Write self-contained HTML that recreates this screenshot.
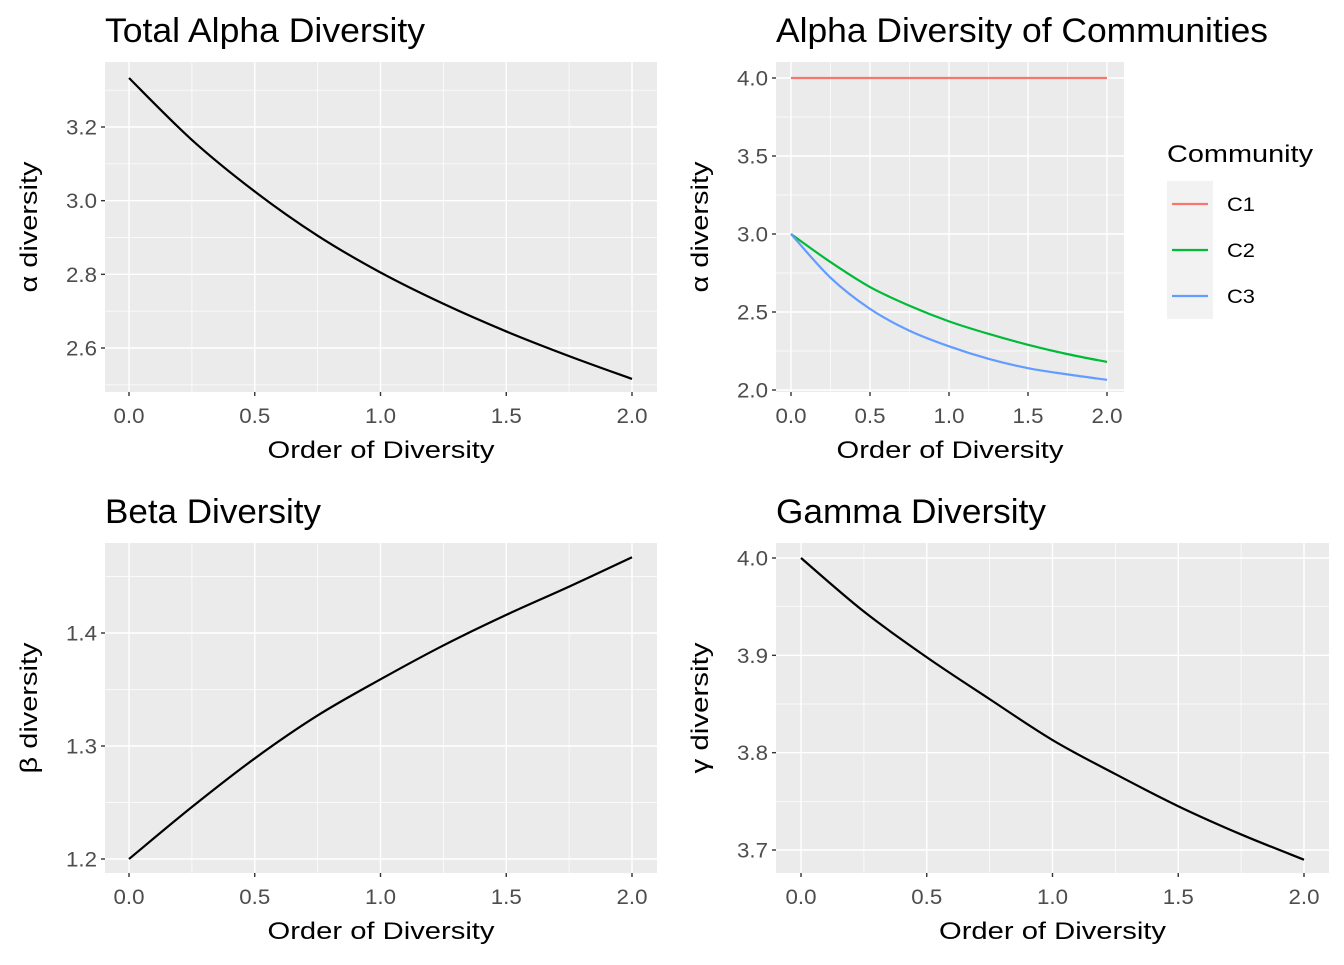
<!DOCTYPE html>
<html><head><meta charset="utf-8"><style>
body{margin:0;background:#fff;}
svg text{font-family:"Liberation Sans",sans-serif;}
</style></head><body>
<svg id="c" width="1344" height="960" xmlns="http://www.w3.org/2000/svg"></svg>
<script>
const qOrders=[0,0.25,0.5,0.75,1,1.25,1.5,1.75,2];
const totalAlpha=[3.333,3.165,3.025,2.905,2.805,2.72,2.645,2.578,2.516];
const communityC1=[4,4,4,4,4,4,4,4,4];
const communityC2=[3.0,2.82,2.66,2.54,2.44,2.36,2.29,2.23,2.18];
const communityC3=[3.0,2.72,2.52,2.38,2.28,2.2,2.14,2.10,2.065];
const betaDiv=[1.2,1.246,1.289,1.327,1.359,1.389,1.416,1.441,1.467];
const gammaDiv=[4.0,3.945,3.898,3.855,3.813,3.778,3.745,3.716,3.69];
const xTicks=[0,0.5,1,1.5,2];
const xTickLabels=["0.0","0.5","1.0","1.5","2.0"];
const ytA=[2.6,2.8,3.0,3.2], ytALab=["2.6","2.8","3.0","3.2"];
const ytC=[2.0,2.5,3.0,3.5,4.0], ytCLab=["2.0","2.5","3.0","3.5","4.0"];
const ytB=[1.2,1.3,1.4], ytBLab=["1.2","1.3","1.4"];
const ytG=[3.7,3.8,3.9,4.0], ytGLab=["3.7","3.8","3.9","4.0"];
const communityNames=["C1","C2","C3"];
const communityColors=["#F8766D","#00BA38","#619CFF"];

const svg=document.getElementById('c');
const NS="http://www.w3.org/2000/svg";
function mk(tag,attrs,parent){const e=document.createElementNS(NS,tag);for(const k in attrs)e.setAttribute(k,attrs[k]);(parent||svg).appendChild(e);return e;}
function smoothPath(pts){
  let d='M'+pts[0][0]+','+pts[0][1];
  for(let i=0;i<pts.length-1;i++){
    const p0=pts[Math.max(0,i-1)],p1=pts[i],p2=pts[i+1],p3=pts[Math.min(pts.length-1,i+2)];
    const c1=[p1[0]+(p2[0]-p0[0])/6,p1[1]+(p2[1]-p0[1])/6];
    const c2=[p2[0]-(p3[0]-p1[0])/6,p2[1]-(p3[1]-p1[1])/6];
    d+=' C'+c1[0]+','+c1[1]+' '+c2[0]+','+c2[1]+' '+p2[0]+','+p2[1];
  }
  return d;
}

function panel(o){
  const g=mk('g',{});
  
  
  const sx=v=>o.x0+(v-o.xmin)/(o.xmax-o.xmin)*(o.x1-o.x0);
  const sy=v=>o.y0+(v-o.ymin)/(o.ymax-o.ymin)*(o.y1-o.y0);
  const bg=mk('rect',{x:o.L,y:o.T,width:o.R-o.L,height:o.B-o.T,fill:'#EBEBEB'},g);
  
  
  for(let i=0;i<xTicks.length-1;i++){const x=sx((xTicks[i]+xTicks[i+1])/2);mk('line',{x1:x,x2:x,y1:o.T,y2:o.B,stroke:'#fff','stroke-width':0.7},g);}
  for(let i=-1;i<o.yt.length;i++){
    const step=o.yt[1]-o.yt[0];
    const v=(i<0?o.yt[0]-step/2:o.yt[i]+step/2);
    const y=sy(v); if(y<o.T||y>o.B) continue;
    mk('line',{x1:o.L,x2:o.R,y1:y,y2:y,stroke:'#fff','stroke-width':0.7},g);
  }
  xTicks.forEach((v,i)=>{const x=sx(v);
    mk('line',{x1:x,x2:x,y1:o.T,y2:o.B,stroke:'#fff','stroke-width':1.4},g);
    mk('line',{x1:x,x2:x,y1:o.B,y2:o.B+4,stroke:'#333','stroke-width':1.4},g);
    const t=mk('text',{x:x,y:o.B+31,'font-size':21,fill:'#4D4D4D','text-anchor':'middle',textLength:31,lengthAdjust:'spacingAndGlyphs'},g);
    t.textContent=xTickLabels[i];
    
    
  });
  o.yt.forEach((v,i)=>{const y=sy(v);
    mk('line',{x1:o.L,x2:o.R,y1:y,y2:y,stroke:'#fff','stroke-width':1.4},g);
    mk('line',{x1:o.L-4,x2:o.L,y1:y,y2:y,stroke:'#333','stroke-width':1.4},g);
    const t=mk('text',{x:o.L-8,y:y+7.5,'font-size':21,fill:'#4D4D4D','text-anchor':'end',textLength:31,lengthAdjust:'spacingAndGlyphs'},g);
    t.textContent=o.ytl[i];
    
    
  });
  o.series.forEach(s=>{
    const p=mk('path',{d:smoothPath(qOrders.map((q,i)=>[sx(q),sy(s.v[i])])),fill:'none',stroke:s.c,'stroke-width':2.2},g);
    
    
  });
  const ti=mk('text',{x:o.L,y:o.T-20,'font-size':34,fill:'#000',textLength:o.tl,lengthAdjust:'spacingAndGlyphs'},g);
  ti.textContent=o.title;
  
  
  const xt=mk('text',{x:(o.L+o.R)/2,y:o.B+66,'font-size':24,fill:'#000','text-anchor':'middle',textLength:227,lengthAdjust:'spacingAndGlyphs'},g);
  xt.textContent='Order of Diversity';
  
  
  const cy=(o.T+o.B)/2;
  const yt=mk('text',{x:0,y:0,'font-size':24,fill:'#000','text-anchor':'middle',textLength:131,lengthAdjust:'spacingAndGlyphs',transform:`translate(${o.L-68},${cy}) rotate(-90)`},g);
  yt.textContent=o.ytitle;
  
  
}

panel({name:'total-alpha-panel',title:'Total Alpha Diversity',tl:320,ytitle:'α diversity',L:105,R:657,T:62,B:392,
  x0:129,x1:632,xmin:0,xmax:2,y0:127,y1:348,ymin:3.2,ymax:2.6,yt:ytA,ytl:ytALab,
  series:[{v:totalAlpha,c:'#000',n:'total-alpha-line'}]});
panel({name:'community-alpha-panel',title:'Alpha Diversity of Communities',tl:492,ytitle:'α diversity',L:776,R:1124,T:62,B:392,
  x0:791,x1:1107,xmin:0,xmax:2,y0:78,y1:390,ymin:4,ymax:2,yt:ytC,ytl:ytCLab,
  series:[{v:communityC1,c:communityColors[0],n:'c1-line'},{v:communityC2,c:communityColors[1],n:'c2-line'},{v:communityC3,c:communityColors[2],n:'c3-line'}]});
panel({name:'beta-panel',title:'Beta Diversity',tl:216,ytitle:'β diversity',L:105,R:657,T:543,B:873,
  x0:129,x1:632,xmin:0,xmax:2,y0:859,y1:633,ymin:1.2,ymax:1.4,yt:ytB,ytl:ytBLab,
  series:[{v:betaDiv,c:'#000',n:'beta-line'}]});
panel({name:'gamma-panel',title:'Gamma Diversity',tl:270,ytitle:'γ diversity',L:776,R:1329,T:543,B:873,
  x0:801,x1:1304,xmin:0,xmax:2,y0:558,y1:850,ymin:4.0,ymax:3.7,yt:ytG,ytl:ytGLab,
  series:[{v:gammaDiv,c:'#000',n:'gamma-line'}]});

const lg=mk('g',{});


const lt=mk('text',{x:1167,y:162,'font-size':24,fill:'#000',textLength:146,lengthAdjust:'spacingAndGlyphs'},lg);
lt.textContent='Community';


communityNames.forEach((n,i)=>{
  const y=181+i*46;
  mk('rect',{x:1167,y:y,width:46,height:46,fill:'#F2F2F2'},lg);
  const l=mk('line',{x1:1172,x2:1208,y1:y+23,y2:y+23,stroke:communityColors[i],'stroke-width':2.2},lg);
  
  
  const t=mk('text',{x:1227,y:y+30,'font-size':19,fill:'#000',textLength:28,lengthAdjust:'spacingAndGlyphs'},lg);
  t.textContent=n;
  
  
});
</script>
</body></html>
